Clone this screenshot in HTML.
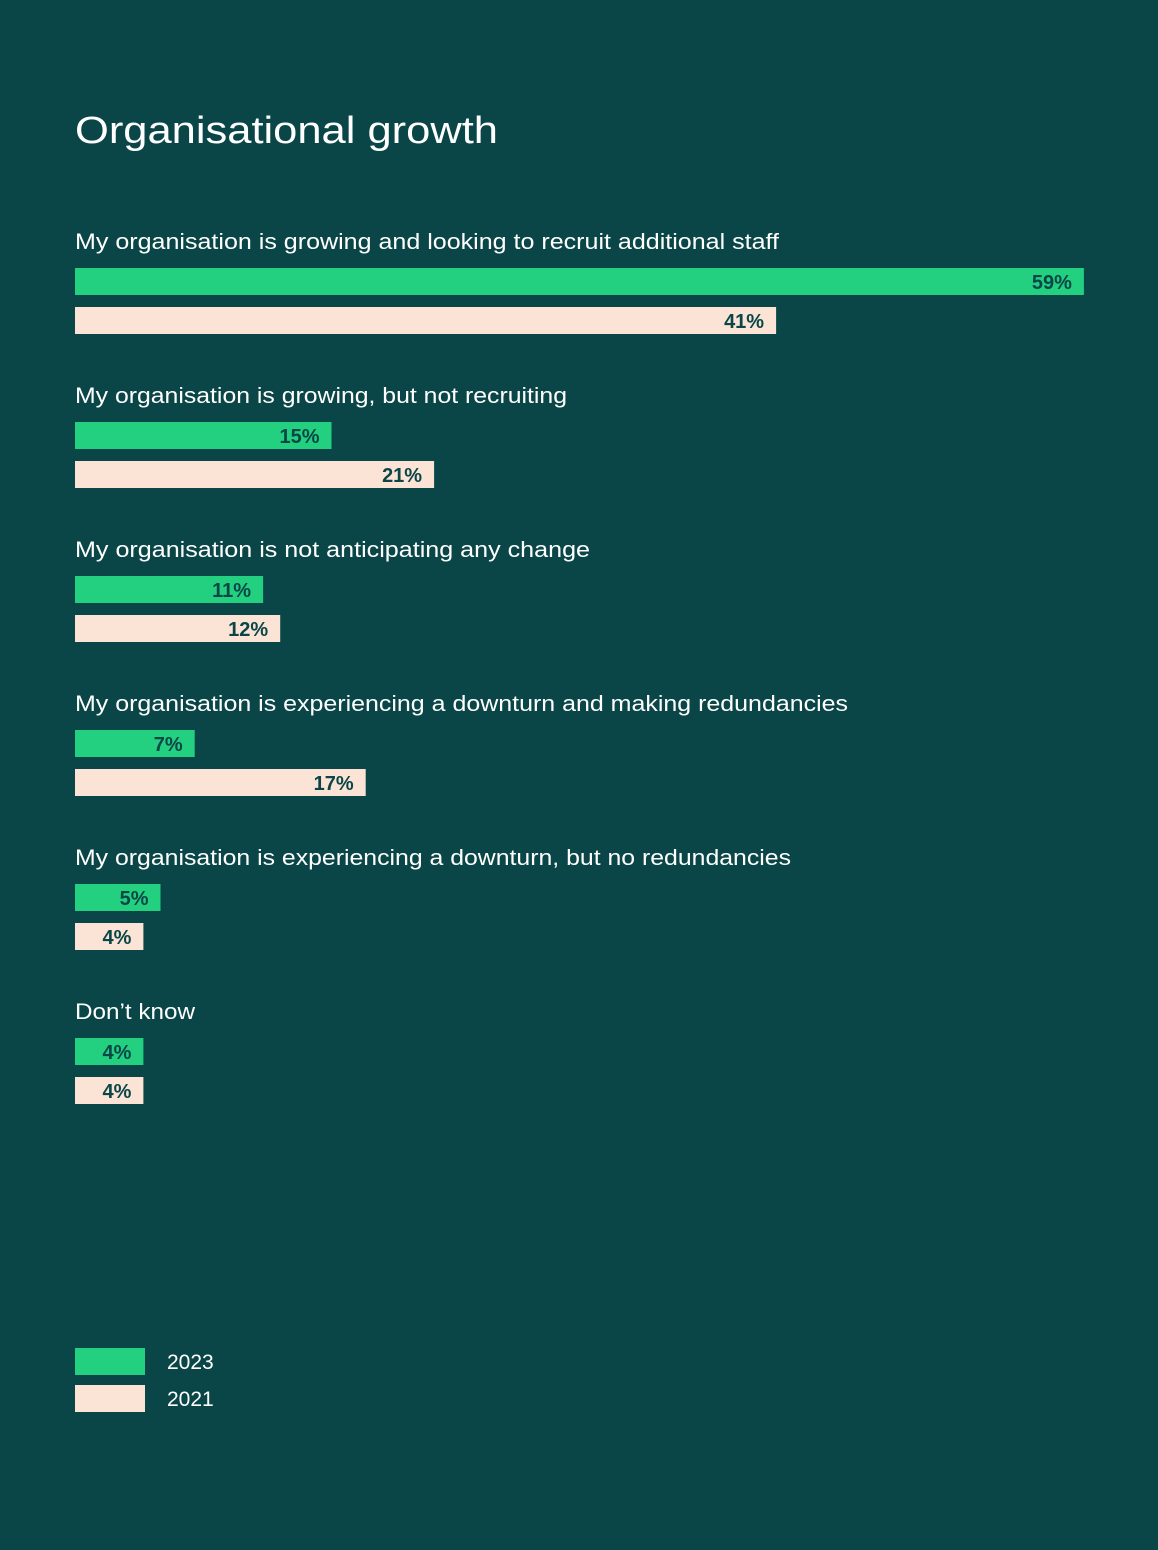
<!DOCTYPE html>
<html><head><meta charset="utf-8">
<style>
html,body{margin:0;padding:0;}
body{width:1158px;height:1550px;background:#0a4647;font-family:"Liberation Sans",sans-serif;overflow:hidden;}
svg{display:block;}
</style></head>
<body>
<svg id="chart" width="1158" height="1550" viewBox="0 0 1158 1550" xmlns="http://www.w3.org/2000/svg">
<rect x="0" y="0" width="1158" height="1550" fill="#0a4647"/>
<text x="75" y="143" fill="#ffffff" font-size="38" textLength="423" lengthAdjust="spacingAndGlyphs">Organisational growth</text>
<g id="bars"></g>
<g>
<rect x="75" y="1348" width="70" height="27" fill="#22d07f"/>
<text x="167" y="1369" fill="#ffffff" font-size="21">2023</text>
<rect x="75" y="1385" width="70" height="27" fill="#fbe3d6"/>
<text x="167" y="1406" fill="#ffffff" font-size="21">2021</text>
</g>
</svg>
<script>
const categories = [
"My organisation is growing and looking to recruit additional staff",
"My organisation is growing, but not recruiting",
"My organisation is not anticipating any change",
"My organisation is experiencing a downturn and making redundancies",
"My organisation is experiencing a downturn, but no redundancies",
"Don\u2019t know"];
const values2023 = [59, 15, 11, 7, 5, 4];
const values2021 = [41, 21, 12, 17, 4, 4];

const labelWidths = [704, 492, 515, 773, 716, 120];
const NS = "http://www.w3.org/2000/svg";
const g = document.getElementById('bars');
const x0 = 75, pxPer = 17.1, barH = 27, groupStep = 154, firstLabelY = 249;
function xScale(v){ return v * pxPer; }
function mk(tag, attrs){ const e = document.createElementNS(NS, tag); for (const k in attrs) e.setAttribute(k, attrs[k]); return e; }
categories.forEach((c, i) => {
  const base = firstLabelY + i * groupStep;
  const lab = mk('text', {x: x0, y: base, fill: '#ffffff', 'font-size': 22, textLength: labelWidths[i], lengthAdjust: 'spacingAndGlyphs'});
  
  
  lab.textContent = c;
  g.appendChild(lab);
  [[values2023[i], '#22d07f', 19, '2023'], [values2021[i], '#fbe3d6', 58, '2021']].forEach(([v, col, off, yr]) => {
    const y = base + off;
    const w = xScale(v);
    const r = mk('rect', {x: x0, y: y, width: w, height: barH, fill: col});
    
    
    g.appendChild(r);
    const t = mk('text', {x: x0 + w - 12, y: y + 21, fill: '#0a4647', 'font-size': 20, 'font-weight': 'bold', 'text-anchor': 'end'});
    
    
    t.textContent = v + '%';
    g.appendChild(t);
  });
});
</script>
</body></html>
